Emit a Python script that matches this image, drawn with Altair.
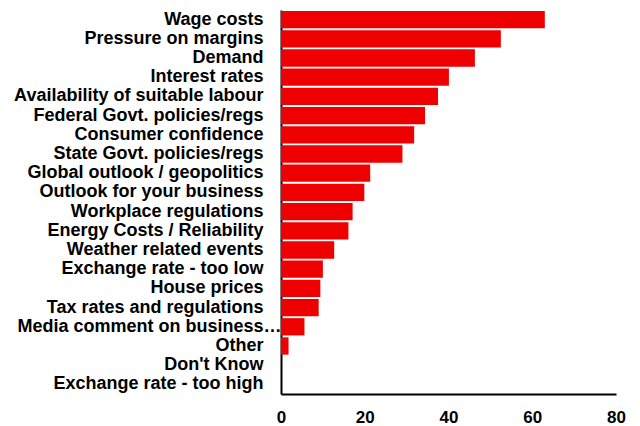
import altair as alt
import pandas as pd

categories = [
    "Wage costs",
    "Pressure on margins",
    "Demand",
    "Interest rates",
    "Availability of suitable labour",
    "Federal Govt. policies/regs",
    "Consumer confidence",
    "State Govt. policies/regs",
    "Global outlook / geopolitics",
    "Outlook for your business",
    "Workplace regulations",
    "Energy Costs / Reliability",
    "Weather related events",
    "Exchange rate - too low",
    "House prices",
    "Tax rates and regulations",
    "Media comment on business…",
    "Other",
    "Don't Know",
    "Exchange rate - too high",
]
values = [63.0, 52.5, 46.3, 40.1, 37.5, 34.4, 31.8, 29.0, 21.3, 19.9,
          17.1, 16.1, 12.7, 10.0, 9.4, 9.0, 5.6, 1.8, 0.0, 0.0]
x_ticks = [0, 20, 40, 60, 80]

df = pd.DataFrame({"factor": categories, "pct": values})
media = categories[16]

FONT = "Liberation Sans"

chart = alt.Chart(df).mark_bar(color="#EE0000").encode(
    x=alt.X(
        "pct:Q",
        scale=alt.Scale(domain=[0, 80], nice=False),
        axis=alt.Axis(
            values=x_ticks, ticks=False, grid=False, title=None,
            labelFont=FONT, labelFontWeight="bold", labelFontSize=17,
            labelColor="black", labelPadding=15, labelFlush=False,
            domainColor="black", domainWidth=2,
        ),
    ),
    y=alt.Y(
        "factor:N",
        sort=categories,
        scale=alt.Scale(paddingInner=0.1, paddingOuter=0.05),
        axis=alt.Axis(
            title=None, ticks=False, grid=False,
            labelFont=FONT, labelFontWeight="bold", labelFontSize=18,
            labelColor="black", labelLimit=400,
            labelPadding={"condition": {"test": f"datum.value === '{media}'", "value": 0}, "value": 18},
            domainColor="black", domainWidth=2,
        ),
    ),
).properties(
    width=335,
    height=384,
    padding={"left": 273, "top": 2, "right": 16, "bottom": 34},
    autosize=alt.AutoSizeParams(type="none"),
).configure_view(stroke=None)

chart.save("out.html", embed_options={"renderer": "svg", "actions": False})
